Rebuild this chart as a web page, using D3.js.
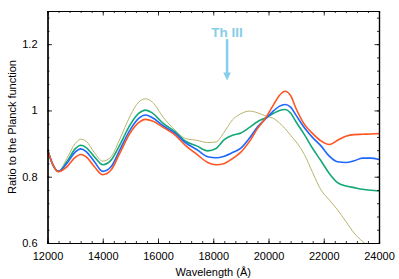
<!DOCTYPE html>
<html>
<head>
<meta charset="utf-8">
<script src="https://cdn.jsdelivr.net/npm/d3@7"></script>
<style>
  html, body { margin: 0; padding: 0; background: white; }
  svg { display: block; }
</style>
</head>
<body>
<svg id="chart" width="399" height="279"></svg>
<script>
// Wavelength grid (Å) shared by all four model curves
const wavelengths = [12000, 12200, 12400, 12700, 13000, 13200, 13400, 13700, 14000, 14300, 14600,
  15000, 15300, 15550, 15800, 16200, 16600, 17000, 17400, 17800, 18100, 18400, 18700, 19000,
  19300, 19600, 19900, 20200, 20400, 20600, 20800, 21000, 21300, 21600, 21900, 22200, 22500,
  22800, 23100, 23400, 23700, 24000];

const orangeSeries = [0.882, 0.835, 0.815, 0.830, 0.858, 0.867, 0.860, 0.830, 0.806, 0.820, 0.868,
  0.933, 0.963, 0.973, 0.968, 0.948, 0.927, 0.894, 0.868, 0.843, 0.836, 0.840, 0.855, 0.874,
  0.905, 0.945, 0.978, 1.020, 1.046, 1.058, 1.045, 1.005, 0.958, 0.930, 0.908, 0.897, 0.910,
  0.922, 0.927, 0.928, 0.929, 0.930];

const blueSeries = [0.882, 0.835, 0.816, 0.840, 0.874, 0.884, 0.876, 0.845, 0.816, 0.830, 0.878,
  0.943, 0.976, 0.986, 0.978, 0.953, 0.932, 0.902, 0.882, 0.860, 0.857, 0.862, 0.873, 0.886,
  0.915, 0.950, 0.975, 1.000, 1.013, 1.018, 1.010, 0.985, 0.948, 0.918, 0.893, 0.862, 0.845,
  0.843, 0.848, 0.856, 0.856, 0.852];

const greenSeries = [0.882, 0.835, 0.816, 0.845, 0.884, 0.895, 0.888, 0.860, 0.836, 0.850, 0.893,
  0.958, 0.991, 1.001, 0.992, 0.960, 0.937, 0.907, 0.893, 0.878, 0.885, 0.912, 0.925, 0.932,
  0.948, 0.966, 0.978, 0.992, 1.000, 1.003, 0.992, 0.965, 0.927, 0.885, 0.848, 0.810, 0.782,
  0.772, 0.767, 0.762, 0.759, 0.757];

const oliveSeries = [0.882, 0.835, 0.817, 0.855, 0.900, 0.913, 0.907, 0.872, 0.847, 0.860, 0.910,
  0.985, 1.025, 1.035, 1.025, 0.978, 0.942, 0.915, 0.910, 0.903, 0.905, 0.935, 0.972, 0.990,
  0.998, 0.993, 0.983, 0.975, 0.962, 0.945, 0.925, 0.905, 0.867, 0.812, 0.760, 0.730, 0.700,
  0.665, 0.630, 0.605, 0.585, 0.565];

const seriesNames = ['olive', 'green', 'blue', 'orange'];
const seriesColors = ['#b8b46c', '#14a878', '#1f66ff', '#ff5521'];
const seriesWidths = [1, 1.6, 1.6, 1.6];
const seriesValues = [oliveSeries, greenSeries, blueSeries, orangeSeries];

const xTicks = [12000, 14000, 16000, 18000, 20000, 22000, 24000];
const yTicks = [0.6, 0.8, 1.0, 1.2];
const xDomain = [12000, 24000];
const yDomain = [0.6, 1.3];

// Th III line marker
const markerLabel = 'Th III';
const markerWavelength = 18500;
const markerTop = 1.215;
const markerBottom = 1.09;

const padding = { top: 11, right: 20, bottom: 36, left: 47.5 };
const width = 399, height = 279;
const fontFamily = '"Liberation Sans", Arial, Helvetica, sans-serif';

const svg = d3.select('#chart').style('font-family', fontFamily);

const x = d3.scaleLinear().domain(xDomain).range([padding.left, width - padding.right]);
const y = d3.scaleLinear().domain(yDomain).range([height - padding.bottom, padding.top]);

const plotBottom = y.range()[0], plotTop = y.range()[1];
const plotLeft = x.range()[0], plotRight = x.range()[1];

// Clip lines to the plot frame (olive curve runs below 0.6)
svg.append('defs').append('clipPath').attr('id', 'plot-clip')
  .append('rect')
  .attr('x', plotLeft).attr('y', plotTop)
  .attr('width', plotRight - plotLeft)
  .attr('height', plotBottom - plotTop);

const line = d3.line()
  .x(d => x(d[0]))
  .y(d => y(d[1]))
  .curve(d3.curveMonotoneX);

svg.append('g').attr('class', 'lines').attr('clip-path', 'url(#plot-clip)')
  .selectAll('path')
  .data(seriesValues)
  .join('path')
  .attr('class', (d, i) => 'line ' + seriesNames[i])
  .attr('fill', 'none')
  .attr('stroke', (d, i) => seriesColors[i])
  .attr('stroke-width', (d, i) => seriesWidths[i])
  .attr('stroke-linejoin', 'round')
  .attr('d', vals => line(wavelengths.map((w, j) => [w, vals[j]])));

// Axes: major + minor ticks pointing inwards on all four sides
const xMinor = d3.range(xDomain[0], xDomain[1] + 1, 400);
const yMinor = d3.range(0, 18).map(i => +(0.6 + i * 0.04).toFixed(2)).filter(v => v <= 1.3);

function styleAxis(g) {
  g.selectAll('.domain').attr('stroke', '#000').attr('stroke-width', 1.2);
  g.selectAll('.tick line').attr('stroke', '#000').attr('stroke-width', 0.8);
  g.selectAll('.tick text').attr('fill', '#000').style('font-size', '11px').style('font-family', fontFamily);
}

svg.append('g').attr('transform', `translate(0,${plotBottom})`)
  .call(d3.axisBottom(x).tickValues(xMinor).tickSize(-2).tickFormat(''))
  .call(styleAxis);
svg.append('g').attr('transform', `translate(0,${plotBottom})`)
  .call(d3.axisBottom(x).tickValues(xTicks).tickSizeInner(-4.5).tickSizeOuter(0).tickPadding(9).tickFormat(d3.format('d')))
  .call(styleAxis);
svg.append('g').attr('transform', `translate(0,${plotTop})`)
  .call(d3.axisTop(x).tickValues(xMinor).tickSize(-2).tickFormat(''))
  .call(styleAxis);
svg.append('g').attr('transform', `translate(0,${plotTop})`)
  .call(d3.axisTop(x).tickValues(xTicks).tickSizeInner(-4.5).tickSizeOuter(0).tickFormat(''))
  .call(styleAxis);

svg.append('g').attr('transform', `translate(${plotLeft},0)`)
  .call(d3.axisLeft(y).tickValues(yMinor).tickSize(-2).tickFormat(''))
  .call(styleAxis);
svg.append('g').attr('transform', `translate(${plotLeft},0)`)
  .call(d3.axisLeft(y).tickValues(yTicks).tickSizeInner(-4.5).tickSizeOuter(0).tickPadding(10).tickFormat(d => d === 1 ? '1' : d3.format('.1f')(d)))
  .call(styleAxis);
svg.append('g').attr('transform', `translate(${plotRight},0)`)
  .call(d3.axisRight(y).tickValues(yMinor).tickSize(-2).tickFormat(''))
  .call(styleAxis);
svg.append('g').attr('transform', `translate(${plotRight},0)`)
  .call(d3.axisRight(y).tickValues(yTicks).tickSizeInner(-4.5).tickSizeOuter(0).tickFormat(''))
  .call(styleAxis);

// Axis titles
svg.append('text')
  .attr('x', (plotLeft + plotRight) / 2)
  .attr('y', 276)
  .attr('text-anchor', 'middle')
  .style('font-size', '11px')
  .text('Wavelength (Å)');

svg.append('text')
  .attr('transform', `translate(16,${(plotTop + plotBottom) / 2}) rotate(-90)`)
  .attr('text-anchor', 'middle')
  .style('font-size', '11px')
  .text('Ratio to the Planck function');

// Th III annotation with arrow
const markerColor = '#86cdea';
const mx = x(markerWavelength);
svg.append('text')
  .attr('x', mx)
  .attr('y', 37)
  .attr('text-anchor', 'middle')
  .attr('fill', markerColor)
  .style('font-size', '13.5px')
  .style('font-weight', 'bold')
  .text(markerLabel);

svg.append('line')
  .attr('x1', mx).attr('x2', mx)
  .attr('y1', y(markerTop)).attr('y2', y(markerBottom) - 6)
  .attr('stroke', markerColor)
  .attr('stroke-width', 2.5);

svg.append('path')
  .attr('d', `M${mx - 3.8},${y(markerBottom) - 8}L${mx + 3.8},${y(markerBottom) - 8}L${mx},${y(markerBottom)}Z`)
  .attr('fill', markerColor);
</script>
</body>
</html>
